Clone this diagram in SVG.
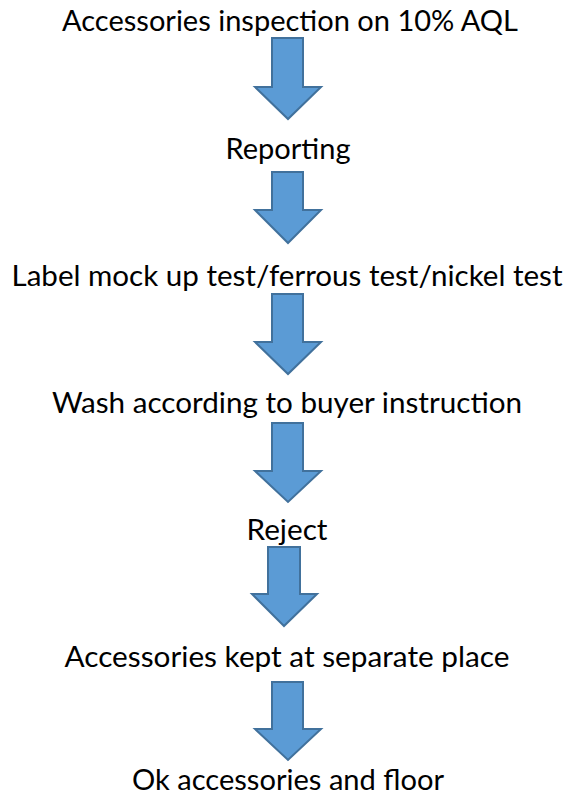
<svg xmlns="http://www.w3.org/2000/svg" width="569" height="797" viewBox="0 0 569 797">
<defs>
<style>
.t{font-family:Lato,"Open Sans","Liberation Sans",sans-serif;font-size:28px;fill:#000;text-anchor:middle}
.a{fill:#5B9BD5;stroke:#41719C;stroke-width:2;stroke-linejoin:miter}
</style>
</defs>
<rect width="569" height="797" fill="#fff"/>
<g id="connectors">
<path class="a" d="M272,38 H303 V87 H321 L288,119 L255,87 H272 Z"/>
<path class="a" d="M272,172 H303 V210 H321 L288,243 L255,210 H272 Z"/>
<path class="a" d="M272,294 H303 V342 H321 L288,374 L255,342 H272 Z"/>
<path class="a" d="M272,423 H303 V471 H321 L288,502 L255,471 H272 Z"/>
<path class="a" d="M268,547 H300 V594 H317 L284,626 L252,594 H268 Z"/>
<path class="a" d="M272,682 H303 V729 H321 L288,760 L255,729 H272 Z"/>
</g>
<g id="n1"><text class="t" x="290" y="31" textLength="456" lengthAdjust="spacingAndGlyphs">Accessories inspection on 10% AQL</text></g>
<g id="n2"><text class="t" x="288" y="159" textLength="125" lengthAdjust="spacingAndGlyphs">Reporting</text></g>
<g id="n3"><text class="t" x="287" y="286" textLength="551" lengthAdjust="spacingAndGlyphs">Label mock up test/ferrous test/nickel test</text></g>
<g id="n4"><text class="t" x="287" y="413" textLength="470" lengthAdjust="spacingAndGlyphs">Wash according to buyer instruction</text></g>
<g id="n5"><text class="t" x="287" y="540" textLength="81" lengthAdjust="spacingAndGlyphs">Reject</text></g>
<g id="n6"><text class="t" x="287" y="667" textLength="445" lengthAdjust="spacingAndGlyphs">Accessories kept at separate place</text></g>
<g id="n7"><text class="t" x="288" y="790" textLength="312" lengthAdjust="spacingAndGlyphs">Ok accessories and floor</text></g>
</svg>
